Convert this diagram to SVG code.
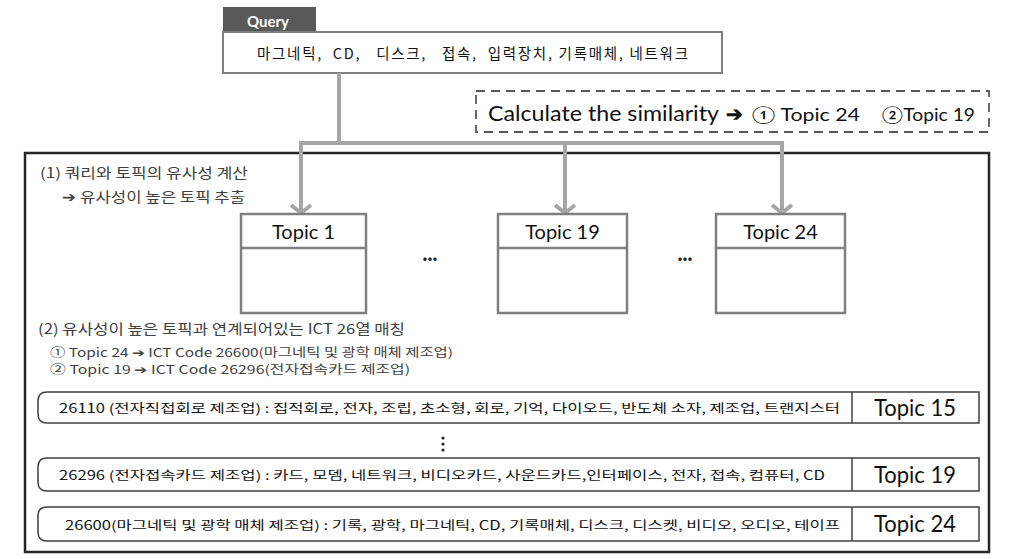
<svg xmlns="http://www.w3.org/2000/svg" width="1026" height="559" viewBox="0 0 1026 559">
<style>
.kr{font-family:"Noto Sans CJK KR","Noto Sans",sans-serif;}
.lt{font-family:Lato,"Noto Sans CJK KR",sans-serif;}
.conn{fill:none;stroke:#a6a6a6;stroke-width:4;}
.tbox{fill:#fff;stroke:#7f7f7f;stroke-width:2.5;}
.row{fill:#fff;stroke:#404040;stroke-width:1.5;}
.sec{font-size:14px;fill:#404040;}
.sub{font-size:12px;fill:#404040;}
.rowt{font-size:12.5px;fill:#111;}
.topic{font-size:20px;fill:#111;}
.rtopic{font-size:23px;fill:#111;}
</style>
<rect width="1026" height="559" fill="#fff"/>

<g id="outer">
<rect x="25" y="153" width="964" height="399" fill="none" stroke="#262626" stroke-width="2.5"/>
</g>

<g id="query">
<rect x="223" y="7" width="93" height="25" fill="#595959"/>
<text x="268" y="27" text-anchor="middle" class="lt" font-size="15" font-weight="bold" fill="#fff">Query</text>
<rect x="223" y="32" width="499" height="41" fill="#fff" stroke="#7f7f7f" stroke-width="2"/>
<text x="257" y="59" class="kr" font-size="14.5" fill="#111" textLength="431" lengthAdjust="spacing" xml:space="preserve">마그네틱,  CD,   디스크,   접속,  입력장치, 기록매체, 네트워크</text>
</g>

<g id="similarity">
<rect x="476" y="91" width="513" height="41" fill="none" stroke="#595959" stroke-width="1.8" stroke-dasharray="9,6"/>
<text x="488" y="121" class="lt" font-size="21" fill="#111" textLength="231" lengthAdjust="spacingAndGlyphs">Calculate the similarity</text>
<text x="726" y="121" class="kr" font-size="20" font-weight="bold" fill="#111">➔</text>
<text x="752" y="121" class="lt" font-size="17" fill="#111" textLength="108" lengthAdjust="spacingAndGlyphs">① Topic 24</text>
<text x="882" y="121" class="lt" font-size="17" fill="#111" textLength="93" lengthAdjust="spacingAndGlyphs">②Topic 19</text>
</g>

<g id="connectors">
<path class="conn" d="M339 73 V143"/>
<path class="conn" d="M301 212 V143 H782 V212"/>
<path class="conn" d="M565 143 V212"/>
<path class="conn" d="M291 205 L301 213 L311 205"/>
<path class="conn" d="M555 205 L565 213 L575 205"/>
<path class="conn" d="M772 205 L782 213 L792 205"/>
</g>

<g id="section1">
<text x="40" y="178" class="kr sec" textLength="208" lengthAdjust="spacingAndGlyphs">(1)  쿼리와 토픽의 유사성 계산</text>
<text x="62" y="202" class="kr sec" textLength="183" lengthAdjust="spacingAndGlyphs">➔ 유사성이 높은 토픽 추출</text>
</g>

<g id="topic1">
<rect x="241" y="214" width="125" height="99" class="tbox"/>
<line x1="241" y1="248" x2="366" y2="248" stroke="#7f7f7f" stroke-width="2.5"/>
<text x="303.5" y="239" text-anchor="middle" class="lt topic">Topic 1</text>
</g>
<g id="topic19">
<rect x="498" y="214" width="129" height="99" class="tbox"/>
<line x1="498" y1="248" x2="627" y2="248" stroke="#7f7f7f" stroke-width="2.5"/>
<text x="562.5" y="239" text-anchor="middle" class="lt topic">Topic 19</text>
</g>
<g id="topic24">
<rect x="716" y="214" width="129" height="99" class="tbox"/>
<line x1="716" y1="248" x2="845" y2="248" stroke="#7f7f7f" stroke-width="2.5"/>
<text x="780.5" y="239" text-anchor="middle" class="lt topic">Topic 24</text>
</g>
<g id="ellipses">
<text x="430" y="265" text-anchor="middle" class="lt" font-size="18" font-weight="bold" fill="#222">···</text>
<text x="685" y="265" text-anchor="middle" class="lt" font-size="18" font-weight="bold" fill="#222">···</text>
</g>

<g id="section2">
<text x="38" y="334" class="kr sec" textLength="367" lengthAdjust="spacingAndGlyphs">(2)  유사성이 높은 토픽과 연계되어있는 ICT 26열 매칭</text>
<text x="50" y="357" class="kr sub" textLength="403" lengthAdjust="spacingAndGlyphs">① Topic 24 ➔ ICT Code 26600(마그네틱 및 광학 매체 제조업)</text>
<text x="50" y="374" class="kr sub" textLength="360" lengthAdjust="spacingAndGlyphs">② Topic 19 ➔ ICT Code 26296(전자접속카드 제조업)</text>
</g>

<g id="row15">
<path class="row" d="M47 392 H979 V423 H47 Q38 423 38 414 V401 Q38 392 47 392 Z"/>
<line x1="852" y1="392" x2="852" y2="423" stroke="#404040" stroke-width="1.5"/>
<text x="59" y="413" class="kr rowt" textLength="781" lengthAdjust="spacingAndGlyphs">26110 (전자직접회로 제조업) : 집적회로, 전자, 조립, 초소형, 회로, 기억, 다이오드, 반도체 소자, 제조업, 트랜지스터</text>
<text x="915" y="416" text-anchor="middle" class="lt rtopic" textLength="82" lengthAdjust="spacingAndGlyphs">Topic 15</text>
</g>

<g id="vdots">
<circle cx="443" cy="438" r="1.6" fill="#222"/>
<circle cx="443" cy="444" r="1.6" fill="#222"/>
<circle cx="443" cy="450" r="1.6" fill="#222"/>
</g>

<g id="row19">
<path class="row" d="M47 458 H979 V491 H47 Q38 491 38 482 V467 Q38 458 47 458 Z"/>
<line x1="852" y1="458" x2="852" y2="491" stroke="#404040" stroke-width="1.5"/>
<text x="59" y="480" class="kr rowt" textLength="766" lengthAdjust="spacingAndGlyphs">26296 (전자접속카드 제조업) : 카드, 모뎀, 네트워크, 비디오카드, 사운드카드,인터페이스, 전자, 접속, 컴퓨터, CD</text>
<text x="915" y="483" text-anchor="middle" class="lt rtopic" textLength="82" lengthAdjust="spacingAndGlyphs">Topic 19</text>
</g>

<g id="row24">
<path class="row" d="M47 507 H979 V541 H47 Q38 541 38 532 V516 Q38 507 47 507 Z"/>
<line x1="852" y1="507" x2="852" y2="541" stroke="#404040" stroke-width="1.5"/>
<text x="65" y="530" class="kr rowt" textLength="775" lengthAdjust="spacingAndGlyphs">26600(마그네틱 및 광학 매체 제조업) : 기록, 광학, 마그네틱, CD, 기록매체, 디스크, 디스켓, 비디오, 오디오, 테이프</text>
<text x="915" y="532" text-anchor="middle" class="lt rtopic" textLength="82" lengthAdjust="spacingAndGlyphs">Topic 24</text>
</g>
</svg>
